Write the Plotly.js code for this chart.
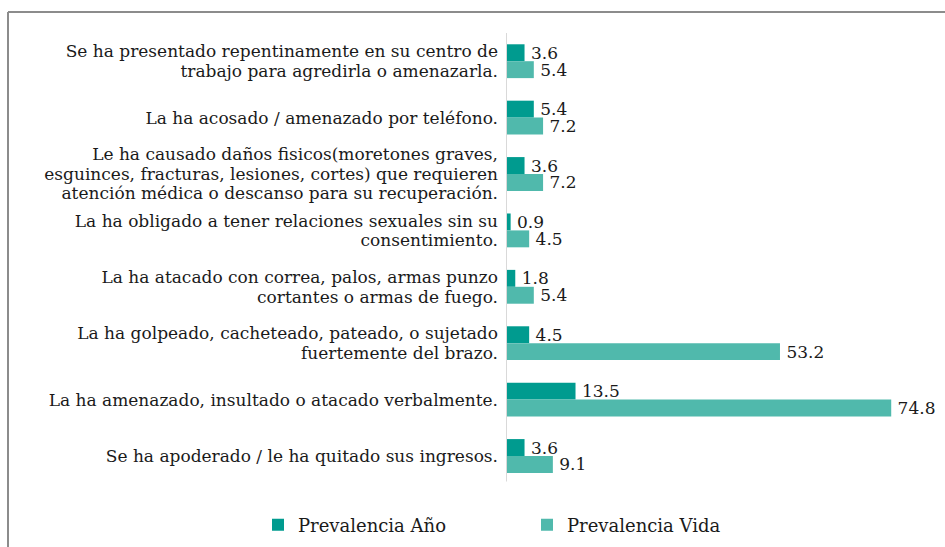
<!DOCTYPE html>
<html>
<head>
<meta charset="utf-8">
<script src="https://cdn.plot.ly/plotly-3.0.1.min.js"></script>
<style>html,body{margin:0;padding:0;background:#fff;}#chart{width:945px;height:547px;}</style>
</head>
<body>
<div id="chart"></div>
<script>
const categories = [
  "Se ha presentado repentinamente en su centro de<br>trabajo para agredirla o amenazarla.",
  "La ha acosado / amenazado por teléfono.",
  "Le ha causado daños fisicos(moretones graves,<br>esguinces, fracturas, lesiones, cortes) que requieren<br>atención médica o descanso para su recuperación.",
  "La ha obligado a tener relaciones sexuales sin su<br>consentimiento.",
  "La ha atacado con correa, palos, armas punzo<br>cortantes o armas de fuego.",
  "La ha golpeado, cacheteado, pateado, o sujetado<br>fuertemente del brazo.",
  "La ha amenazado, insultado o atacado verbalmente.",
  "Se ha apoderado / le ha quitado sus ingresos."
];
const prevalenciaAnio = [3.6, 5.4, 3.6, 0.9, 1.8, 4.5, 13.5, 3.6];
const prevalenciaVida = [5.4, 7.2, 7.2, 4.5, 5.4, 53.2, 74.8, 9.1];
const seriesNames = ["Prevalencia Año", "Prevalencia Vida"];

const FONT = "'DejaVu Serif', 'Liberation Serif', serif";
const W = 945, H = 547;
const ML = 8, MR = 0, MT = 33, MB = 0;           // plot area = whole frame; axis placed by domain
const PW = W - ML - MR, PH = H - MT - MB;
const AXIS_X = 506, AXIS_END = 918;              // pixel positions of value 0 and value 80
const CAT_PX = 56.4;                             // pixel height of one category band
const yBottom = -0.5 + PH / CAT_PX;
const px2x = p => (p - ML) / PW;
const px2y = p => (H - MB - p) / PH;

const mk = (vals, name, color) => ({
  type: 'bar', orientation: 'h', y: categories, x: vals, name: name,
  marker: {color: color},
  text: vals.map(v => '\u2009' + v.toFixed(1)), textposition: 'outside', constraintext: 'none',
  textfont: {family: FONT, size: 17, color: '#1a1a1a'},
  cliponaxis: false, hoverinfo: 'x+name'
});

const data = [
  mk(prevalenciaAnio, seriesNames[0], '#009B8F'),
  mk(prevalenciaVida, seriesNames[1], '#50B9AC')
];

const frameLine = {color: '#8c8c8c', width: 2};
const layout = {
  width: W, height: H,
  margin: {l: ML, r: MR, t: MT, b: MB, pad: 0},
  paper_bgcolor: '#fff', plot_bgcolor: 'rgba(0,0,0,0)',
  font: {family: FONT, size: 17, color: '#1a1a1a'},
  barmode: 'group', bargap: 0.4, bargroupgap: 0,
  xaxis: {domain: [px2x(AXIS_X), px2x(AXIS_END)], range: [0, 80], showgrid: false, zeroline: false,
          showticklabels: false, showline: false, ticks: ''},
  yaxis: {range: [yBottom, -0.5], autorange: false, showgrid: false, zeroline: false, showline: false,
          ticks: '', ticklabelstandoff: 7, tickfont: {family: FONT, size: 17, color: '#1a1a1a'}},
  showlegend: true,
  legend: {orientation: 'h', x: px2x(258), xanchor: 'left', y: px2y(525), yanchor: 'middle',
           font: {family: FONT, size: 18, color: '#1a1a1a'}, traceorder: 'normal',
           itemwidth: 30, entrywidth: 224, entrywidthmode: 'pixels', bgcolor: 'rgba(0,0,0,0)'},
  shapes: [
    {type: 'line', xref: 'x', yref: 'y', x0: 0, x1: 0, y0: -0.5, y1: categories.length - 0.55,
     line: {color: '#d9d9d9', width: 2}, layer: 'above'},
    {type: 'line', xref: 'paper', yref: 'paper', x0: px2x(8), x1: px2x(946), y0: px2y(12), y1: px2y(12), line: frameLine, layer: 'below'},
    {type: 'line', xref: 'paper', yref: 'paper', x0: px2x(8), x1: px2x(8), y0: px2y(12), y1: px2y(548), line: frameLine, layer: 'below'}
  ]
};

// tighter line spacing for multi-line tick labels, as in the reference
const LINE_EM = 1.15;
function tightenTicks() {
  document.querySelectorAll('.ytick text').forEach(t => {
    const lines = t.querySelectorAll('tspan.line');
    const n = lines.length;
    if (n < 2) return;
    const base = (n - 1) * 1.3 / 2 - (n - 1) * LINE_EM / 2;
    lines.forEach(ln => {
      const i = Math.round(parseFloat(ln.getAttribute('dy') || '0') / 1.3);
      ln.setAttribute('dy', (base + i * LINE_EM) + 'em');
    });
  });
}

Plotly.newPlot('chart', data, layout, {displayModeBar: false, staticPlot: true}).then(tightenTicks);
</script>
</body>
</html>
